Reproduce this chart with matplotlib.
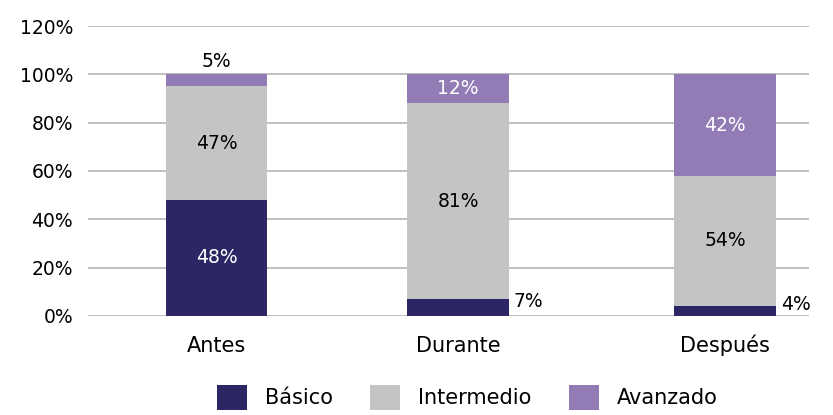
import matplotlib.pyplot as plt
from matplotlib.patches import Patch

# datos
etapas = ["Antes", "Durante", "Después"]
basico = [48, 7, 4]
intermedio = [47, 81, 54]
avanzado = [5, 12, 42]
series = ["Básico", "Intermedio", "Avanzado"]

colores = ["#2C2764", "#C4C4C4", "#937CB6"]
pos = [0, 1, 2.106]
ancho = 0.42

plt.rcParams["font.family"] = ["DejaVu Sans"]

fig = plt.figure(figsize=(8.33, 4.15), dpi=100)
ax = fig.add_axes([0.106, 0.239, 0.865, 0.698])

ax.bar(pos, basico, width=ancho, color=colores[0], zorder=3)
ax.bar(pos, intermedio, width=ancho, bottom=basico, color=colores[1], zorder=3)
tope = [b + i for b, i in zip(basico, intermedio)]
ax.bar(pos, avanzado, width=ancho, bottom=tope, color=colores[2], zorder=3)

fs = 13.5
for k, x in enumerate(pos):
    b, i, a = basico[k], intermedio[k], avanzado[k]
    # Básico
    if b > 15:
        ax.text(x, b / 2, f"{b}%", ha="center", va="center", color="white", fontsize=fs, zorder=4)
    else:
        ax.text(x + ancho / 2 + 0.02, b / 2 + 2.5, f"{b}%", ha="left", va="center", color="black", fontsize=fs, zorder=4)
    # Intermedio
    ax.text(x, b + i / 2, f"{i}%", ha="center", va="center", color="black", fontsize=fs, zorder=4)
    # Avanzado
    if a > 8:
        ax.text(x, b + i + a / 2, f"{a}%", ha="center", va="center", color="white", fontsize=fs, zorder=4)
    else:
        ax.text(x, b + i + a + 1.5, f"{a}%", ha="center", va="bottom", color="black", fontsize=fs, zorder=4)

ax.set_ylim(0, 120)
ax.set_yticks(range(0, 121, 20))
ax.set_yticklabels([f"{v}%" for v in range(0, 121, 20)], fontsize=fs)
ax.set_xlim(-0.532, 2.453)
ax.set_xticks(pos)
ax.set_xticklabels(etapas, fontsize=15, va="baseline")
ax.tick_params(axis="both", length=0)
ax.tick_params(axis="x", pad=26)
ax.tick_params(axis="y", pad=11)
ax.grid(axis="y", color="#BFBFBF", linewidth=1.4, zorder=0)
for s in ax.spines.values():
    s.set_visible(False)

handles = [Patch(facecolor=c) for c in colores]
fig.legend(handles, series, loc="center", bbox_to_anchor=(0.561, 0.043), ncol=3,
           frameon=False, fontsize=15, handlelength=1.45, handleheight=1.45,
           handletextpad=0.85, columnspacing=1.8)

fig.savefig("out.png", dpi=100)
